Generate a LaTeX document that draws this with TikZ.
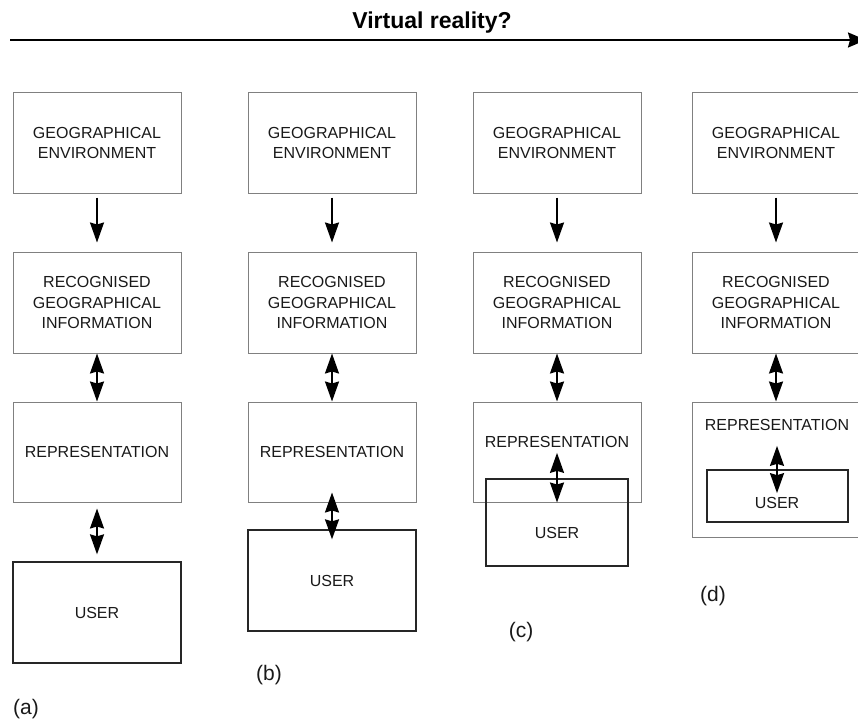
\documentclass[tikz,border=0pt]{standalone}
\usepackage{fontspec}
\setmainfont{Liberation Sans}
\usetikzlibrary{arrows.meta}
\tikzset{
  x=1pt, y=-1pt,
  gbox/.style={draw=black!50, line width=1pt, inner sep=0pt, align=center,
    font=\fontsize{16}{20.5}\selectfont, text=black!90},
  ubox/.style={draw=black!85, line width=1.3pt, inner sep=0pt, align=center,
    font=\fontsize{16}{20.5}\selectfont, text=black!90},
  txt/.style={inner sep=2pt, align=center, font=\fontsize{16}{20.5}\selectfont, text=black!90},
  lbl/.style={inner sep=0pt, font=\fontsize{21}{24}\selectfont, text=black!90},
  head/.tip={Stealth[length=20pt,width=14pt,inset=2pt]},
  one/.style={line width=1.8pt, -head},
  two/.style={line width=1.8pt, head-head},
  std/.style={minimum width=168pt, minimum height=100pt}
}
\begin{document}
\begin{tikzpicture}
\useasboundingbox (0,0) rectangle (858,722);
\clip (0,0) rectangle (858,722);

% timeline
\node[inner sep=0pt, font=\fontsize{23}{26}\bfseries\selectfont] (title) at (432,23) {Virtual reality?};
\coordinate (tl0) at (10,40);
\coordinate (tl1) at (866,40);
\draw[line width=2pt, -{Stealth[length=18pt,width=15pt,inset=2pt]}] (tl0) -- (tl1);

% (a)
\node[gbox, std] (geA) at (97,143) {GEOGRAPHICAL\\ENVIRONMENT};
\node[gbox, std, minimum height=101pt] (rgiA) at (97,302.5) {RECOGNISED\\GEOGRAPHICAL\\INFORMATION};
\node[gbox, std] (repA) at (97,452) {REPRESENTATION};
\node[ubox, std, minimum height=101pt] (userA) at (97,612.5) {USER};
\draw[one, shorten <=4pt, shorten >=9pt] (geA) -- (rgiA);
\draw[two] (rgiA) -- (repA);
\draw[two, shorten <=6pt, shorten >=7pt] (repA) -- (userA);
\node[lbl] (labA) at (26,709) {(a)};

% (b)
\node[gbox, std] (geB) at (332,143) {GEOGRAPHICAL\\ENVIRONMENT};
\node[gbox, std, minimum height=101pt] (rgiB) at (332,302.5) {RECOGNISED\\GEOGRAPHICAL\\INFORMATION};
\node[gbox, std] (repB) at (332,452) {REPRESENTATION};
\node[ubox, std, minimum height=101pt] (userB) at (332,580.5) {USER};
\draw[one, shorten <=4pt, shorten >=9pt] (geB) -- (rgiB);
\draw[two] (rgiB) -- (repB);
\draw[two] ([yshift=10pt]repB.south) -- ([yshift=-10pt]userB.north);
\node[lbl] (labB) at (269,675) {(b)};

% (c)
\node[gbox, std] (geC) at (557,143) {GEOGRAPHICAL\\ENVIRONMENT};
\node[gbox, std, minimum height=101pt] (rgiC) at (557,302.5) {RECOGNISED\\GEOGRAPHICAL\\INFORMATION};
\node[gbox, std] (repC) at (557,452) {};
\node[txt] (repCt) at (557,442) {REPRESENTATION};
\node[ubox, minimum width=142pt, minimum height=87pt] (userC) at (557,522.5) {};
\node[txt] (userCt) at (557,533) {USER};
\draw[one, shorten <=4pt, shorten >=9pt] (geC) -- (rgiC);
\draw[two] (rgiC) -- (repC);
\draw[two, shorten <=3pt] (repCt.south) -- (repC.south);
\node[lbl] (labC) at (521,632) {(c)};

% (d)
\node[gbox, std] (geD) at (776,143) {GEOGRAPHICAL\\ENVIRONMENT};
\node[gbox, std, minimum height=101pt] (rgiD) at (776,302.5) {RECOGNISED\\GEOGRAPHICAL\\INFORMATION};
\node[gbox, std, minimum height=135pt] (repD) at (776,469.5) {};
\node[txt] (repDt) at (777,425) {REPRESENTATION};
\node[ubox, minimum width=141pt, minimum height=52pt] (userD) at (777.5,496) {};
\node[txt] (userDt) at (777,503) {USER};
\draw[one, shorten <=4pt, shorten >=9pt] (geD) -- (rgiD);
\draw[two] (rgiD) -- (repD);
\draw[two] ([yshift=-13pt]repDt.south) -- ([yshift=2pt]userDt.north);
\node[lbl] (labD) at (713,596) {(d)};
\end{tikzpicture}
\end{document}
